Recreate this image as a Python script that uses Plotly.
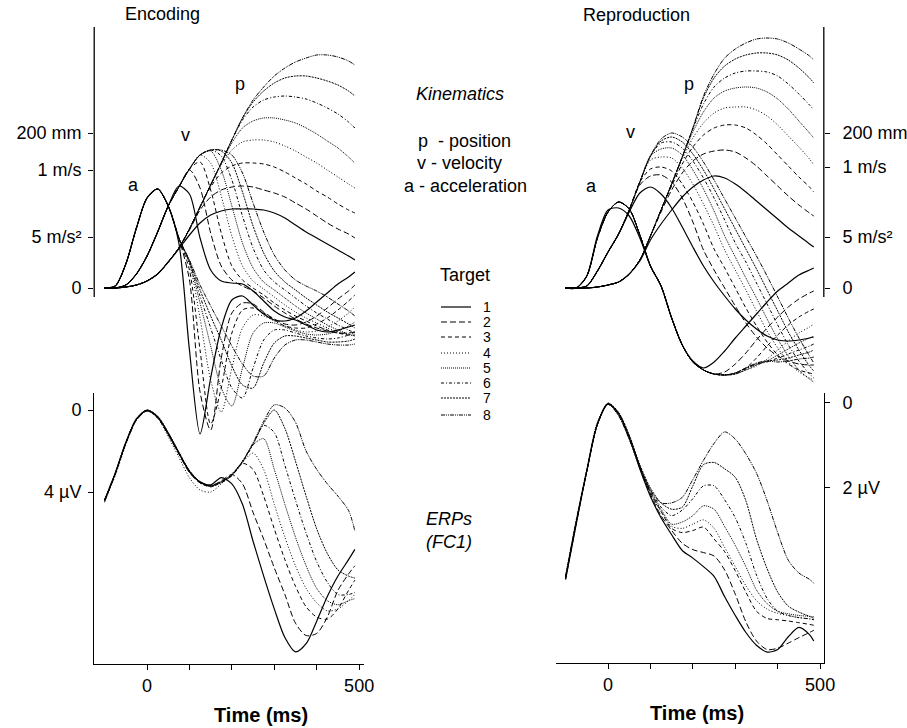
import plotly.graph_objects as go

W, H = 907, 728          # reference picture size (coordinates below are in its pixels)
LAYOUT_W = 920           # page renders slightly squeezed horizontally; compensate

# ---------------- data (time in ms) ----------------
T_ENC = [-100, -75, -50, -25, 0, 25, 50, 75, 100, 125, 150, 175, 200, 225, 250,
         275, 300, 325, 350, 375, 400, 425, 450, 475, 490]
T_REP = [-100, -75, -50, -25, 0, 25, 50, 75, 100, 125, 150, 175, 200, 225, 250,
         275, 300, 325, 350, 375, 400, 425, 450, 475, 485]

TARGETS = ["1", "2", "3", "4", "5", "6", "7", "8"]

# Encoding kinematics (plotted in display units, 0 = rest)
ENC_POS = [
    [0, 0, 1, 3, 7, 14, 26, 39, 53, 65, 73, 77, 79, 79, 79, 78, 75, 70, 63, 56, 50, 44, 38, 32, 28],
    [0, 0, 1, 3, 7, 14, 26, 40, 58, 78, 91, 98, 101, 102, 101, 98, 95, 91, 85, 79, 72, 65, 59, 54, 50],
    [0, 0, 1, 3, 7, 14, 26, 40, 59, 81, 101, 115, 122, 125, 125, 124, 121, 116, 110, 104, 97, 91, 84, 78, 75],
    [0, 0, 1, 3, 7, 14, 26, 40, 59, 81, 103, 123, 138, 146, 148, 148, 146, 142, 137, 131, 125, 118, 111, 104, 100],
    [0, 0, 1, 3, 7, 14, 26, 40, 59, 81, 103, 125, 145, 160, 167, 170, 170, 168, 165, 160, 154, 147, 140, 131, 125],
    [0, 0, 1, 3, 7, 14, 26, 40, 59, 81, 103, 125, 148, 168, 181, 188, 191, 192, 191, 189, 185, 180, 174, 166, 160],
    [0, 0, 1, 3, 7, 14, 26, 40, 59, 81, 103, 125, 148, 170, 186, 197, 205, 210, 212, 212, 210, 207, 203, 197, 192],
    [0, 0, 1, 3, 7, 14, 26, 40, 59, 81, 103, 125, 148, 170, 188, 201, 212, 220, 226, 230, 233, 233, 231, 227, 223],
]
ENC_VEL = [
    [0, 0, 3, 14, 32, 56, 82, 102, 94, 50, 18, 7, 5, 4, -3, -13, -23, -29, -32, -37, -42, -44, -42, -39, -37],
    [0, 0, 3, 14, 32, 56, 82, 101, 118, 100, 55, 22, 8, 2, -3, -10, -18, -25, -31, -36, -40, -43, -45, -45, -44],
    [0, 0, 3, 14, 32, 56, 82, 101, 119, 126, 98, 55, 22, 8, 0, -7, -15, -22, -28, -33, -38, -42, -45, -47, -47],
    [0, 0, 3, 14, 32, 56, 82, 101, 119, 133, 125, 92, 52, 22, 7, -1, -9, -17, -24, -30, -35, -40, -44, -47, -48],
    [0, 0, 3, 14, 32, 56, 82, 101, 119, 133, 137, 118, 82, 45, 20, 6, -2, -10, -18, -25, -31, -37, -42, -46, -48],
    [0, 0, 3, 14, 32, 56, 82, 101, 119, 133, 138, 132, 108, 72, 40, 18, 6, -2, -10, -18, -25, -31, -37, -42, -45],
    [0, 0, 3, 14, 32, 56, 82, 101, 119, 133, 138, 137, 125, 96, 62, 35, 17, 6, -2, -10, -17, -24, -30, -36, -40],
    [0, 0, 3, 14, 32, 56, 82, 101, 119, 133, 138, 138, 133, 115, 85, 56, 33, 18, 8, 2, -3, -9, -16, -23, -28],
]
ENC_ACC = [
    [0, 2, 24, 60, 90, 99, 82, 45, -62, -146, -90, -40, -12, -8, -17, -26, -32, -33, -30, -23, -14, -5, 4, 11, 16],
    [0, 2, 24, 60, 90, 99, 82, 50, 8, -104, -142, -70, -25, -15, -16, -24, -31, -36, -37, -34, -28, -20, -11, -3, 3],
    [0, 2, 24, 60, 90, 99, 82, 50, 18, -62, -136, -100, -45, -22, -20, -25, -32, -38, -40, -40, -36, -30, -22, -13, -7],
    [0, 2, 24, 60, 90, 99, 82, 50, 24, -30, -92, -124, -80, -40, -27, -28, -33, -38, -42, -44, -43, -39, -33, -25, -19],
    [0, 2, 24, 60, 90, 99, 82, 50, 25, -15, -58, -100, -118, -80, -45, -35, -35, -39, -43, -46, -47, -46, -43, -38, -34],
    [0, 2, 24, 60, 90, 99, 82, 50, 26, -8, -40, -72, -100, -110, -80, -52, -42, -42, -45, -48, -50, -51, -50, -47, -44],
    [0, 2, 24, 60, 90, 99, 82, 50, 27, -2, -28, -52, -78, -97, -100, -75, -55, -48, -48, -50, -52, -54, -54, -53, -51],
    [0, 2, 24, 60, 90, 99, 82, 50, 28, 3, -18, -38, -58, -76, -88, -88, -70, -57, -52, -52, -54, -56, -57, -57, -56],
]

# Reproduction kinematics
REP_POS = [
    [0, 0, 0, 1, 3, 6, 14, 27, 48, 64, 78, 91, 101, 108, 112, 110, 104, 96, 87, 78, 69, 60, 52, 44, 41],
    [0, 0, 0, 1, 3, 6, 14, 28, 52, 76, 98, 115, 127, 134, 137, 138, 136, 130, 122, 112, 102, 92, 83, 75, 72],
    [0, 0, 0, 1, 3, 6, 14, 28, 52, 78, 102, 124, 141, 153, 160, 163, 163, 160, 153, 144, 133, 122, 111, 101, 96],
    [0, 0, 0, 1, 3, 6, 14, 28, 52, 78, 104, 129, 150, 165, 175, 180, 181, 181, 178, 172, 163, 152, 141, 129, 123],
    [0, 0, 0, 1, 3, 6, 14, 28, 52, 78, 104, 131, 156, 176, 190, 197, 200, 201, 200, 196, 189, 179, 167, 155, 150],
    [0, 0, 0, 1, 3, 6, 14, 28, 52, 78, 104, 131, 159, 184, 201, 210, 215, 217, 217, 216, 212, 204, 194, 183, 178],
    [0, 0, 0, 1, 3, 6, 14, 28, 52, 78, 104, 131, 160, 190, 210, 222, 229, 233, 235, 235, 233, 228, 220, 210, 205],
    [0, 0, 0, 1, 3, 6, 14, 28, 52, 78, 104, 131, 160, 192, 214, 230, 239, 245, 249, 250, 249, 245, 239, 232, 228],
]
REP_VEL = [
    [0, 0, 2, 17, 36, 54, 76, 95, 101, 94, 80, 61, 41, 22, 6, -8, -21, -32, -41, -48, -52, -53, -52, -50, -49],
    [0, 0, 2, 17, 36, 54, 78, 103, 112, 113, 106, 90, 66, 38, 18, 0, -18, -35, -49, -60, -68, -73, -76, -77, -77],
    [0, 0, 2, 17, 36, 54, 78, 106, 119, 121, 117, 104, 86, 64, 39, 20, 0, -20, -38, -54, -67, -76, -82, -85, -86],
    [0, 0, 2, 17, 36, 54, 78, 106, 128, 131, 130, 120, 104, 84, 62, 38, 18, -2, -23, -43, -60, -74, -84, -90, -92],
    [0, 0, 2, 17, 36, 54, 78, 106, 132, 139, 140, 133, 118, 99, 77, 52, 31, 10, -10, -31, -51, -68, -82, -91, -94],
    [0, 0, 2, 17, 36, 54, 78, 106, 132, 145, 146, 140, 127, 110, 90, 68, 45, 26, 5, -16, -37, -57, -73, -86, -90],
    [0, 0, 2, 17, 36, 54, 78, 106, 132, 147, 151, 146, 134, 118, 99, 79, 59, 39, 19, -2, -23, -44, -62, -78, -83],
    [0, 0, 2, 17, 36, 54, 78, 106, 132, 149, 155, 151, 141, 126, 108, 89, 70, 51, 32, 12, -9, -30, -50, -68, -75],
]
REP_ACC = [
    [0, 0, 12, 52, 78, 80, 72, 50, 22, 2, -30, -57, -73, -80, -74, -63, -50, -38, -26, -14, -3, 5, 13, 18, 20],
    [0, 0, 12, 50, 76, 86, 79, 53, 22, 2, -30, -57, -74, -82, -86, -84, -76, -65, -52, -40, -29, -19, -11, -5, -3],
    [0, 0, 12, 50, 76, 86, 79, 53, 22, 2, -30, -57, -74, -82, -86, -87, -85, -80, -70, -58, -47, -37, -29, -23, -21],
    [0, 0, 12, 50, 76, 86, 79, 53, 22, 2, -30, -57, -74, -82, -86, -87, -86, -82, -78, -71, -62, -53, -45, -39, -36],
    [0, 0, 12, 50, 76, 86, 79, 53, 22, 2, -30, -57, -74, -82, -86, -87, -86, -82, -77, -73, -67, -61, -55, -50, -48],
    [0, 0, 12, 50, 76, 86, 79, 53, 22, 2, -30, -57, -74, -82, -86, -87, -86, -81, -76, -74, -70, -66, -62, -58, -56],
    [0, 0, 12, 50, 76, 86, 79, 53, 22, 2, -30, -57, -74, -82, -86, -87, -85, -80, -76, -73, -72, -70, -67, -64, -62],
    [0, 0, 12, 50, 76, 86, 79, 53, 22, 2, -30, -57, -74, -82, -86, -87, -85, -80, -75, -73, -74, -73, -71, -70, -69],
]

# ERPs at FC1 (microvolts, negative up)
ENC_ERP = [
    [4.4, 3.1, 1.6, 0.45, 0.02, 0.35, 1.15, 2.1, 3.0, 3.5, 3.65, 3.3, 3.6, 4.6, 6.4, 8.1, 9.7, 11.1, 11.8, 11.4, 10.3, 9.1, 8.1, 7.3, 6.8],
    [4.45, 3.15, 1.65, 0.5, 0.05, 0.35, 1.2, 2.15, 3.05, 3.55, 3.7, 3.45, 3.15, 3.6, 5.0, 6.3, 7.7, 9.0, 10.4, 11.0, 10.9, 10.1, 8.8, 8.0, 7.6],
    [4.4, 3.1, 1.6, 0.45, 0.02, 0.4, 1.2, 2.1, 3.0, 3.55, 3.75, 3.5, 3.2, 2.6, 2.9, 4.2, 5.8, 7.3, 8.6, 9.6, 10.1, 10.2, 9.7, 8.8, 8.3],
    [4.5, 3.2, 1.7, 0.5, 0.05, 0.4, 1.3, 2.3, 3.3, 3.9, 4.0, 3.6, 3.1, 2.55, 2.1, 2.9, 4.6, 6.2, 7.6, 8.7, 9.4, 9.8, 9.7, 9.3, 9.0],
    [4.35, 3.05, 1.55, 0.4, 0.0, 0.3, 1.1, 2.05, 2.95, 3.5, 3.7, 3.55, 3.2, 2.55, 1.7, 1.4, 2.9, 4.6, 6.2, 7.6, 8.7, 9.3, 9.5, 9.3, 9.2],
    [4.4, 3.1, 1.6, 0.45, 0.02, 0.35, 1.15, 2.1, 3.0, 3.55, 3.72, 3.55, 3.2, 2.55, 1.7, 0.75, 1.1, 2.7, 4.4, 6.0, 7.4, 8.4, 9.0, 9.0, 8.9],
    [4.45, 3.1, 1.6, 0.45, 0.0, 0.3, 1.1, 2.05, 2.95, 3.5, 3.7, 3.5, 3.15, 2.5, 1.65, 0.65, 0.0, 0.9, 2.5, 4.2, 5.8, 7.0, 7.8, 8.1, 8.2],
    [4.4, 3.1, 1.6, 0.45, 0.02, 0.35, 1.15, 2.1, 3.0, 3.55, 3.7, 3.5, 3.15, 2.5, 1.6, 0.55, -0.25, -0.1, 0.6, 2.0, 2.9, 3.6, 4.2, 4.9, 5.9],
]
REP_ERP = [
    [4.15, 2.85, 1.6, 0.5, 0.02, 0.25, 0.8, 1.55, 2.2, 2.7, 3.1, 3.47, 3.65, 3.85, 4.08, 4.56, 5.0, 5.4, 5.7, 5.86, 5.8, 5.5, 5.28, 5.45, 5.6],
    [4.1, 2.8, 1.6, 0.5, 0.02, 0.25, 0.8, 1.5, 2.15, 2.65, 3.0, 3.3, 3.45, 3.52, 3.6, 3.93, 4.5, 5.15, 5.6, 5.8, 5.77, 5.65, 5.52, 5.4, 5.35],
    [4.1, 2.8, 1.6, 0.5, 0.02, 0.25, 0.8, 1.5, 2.1, 2.55, 2.95, 3.05, 3.0, 2.92, 3.2, 3.5, 3.95, 4.45, 4.9, 5.07, 5.1, 5.13, 5.17, 5.21, 5.23],
    [4.1, 2.8, 1.6, 0.5, 0.04, 0.28, 0.85, 1.55, 2.15, 2.55, 2.9, 2.95, 2.85, 2.75, 2.95, 3.4, 3.85, 4.3, 4.65, 4.85, 4.95, 5.0, 5.05, 5.08, 5.1],
    [4.05, 2.75, 1.55, 0.45, 0.02, 0.3, 0.85, 1.5, 2.1, 2.5, 2.85, 2.8, 2.65, 2.42, 2.5, 2.91, 3.35, 3.85, 4.4, 4.72, 4.9, 4.96, 5.0, 5.02, 5.03],
    [4.1, 2.8, 1.6, 0.5, 0.02, 0.25, 0.8, 1.5, 2.05, 2.45, 2.65, 2.52, 2.25, 1.95, 1.95, 2.28, 2.7, 3.3, 4.05, 4.6, 4.9, 5.0, 5.05, 5.08, 5.1],
    [4.1, 2.8, 1.6, 0.5, 0.0, 0.22, 0.75, 1.45, 2.0, 2.35, 2.5, 2.45, 1.95, 1.45, 1.4, 1.55, 1.75, 2.3, 3.2, 3.9, 4.45, 4.78, 4.92, 5.02, 5.07],
    [4.15, 2.85, 1.6, 0.5, 0.03, 0.3, 0.85, 1.5, 2.05, 2.35, 2.35, 2.22, 1.8, 1.35, 0.95, 0.68, 0.85, 1.2, 1.65, 2.3, 3.05, 3.7, 4.0, 4.15, 4.24],
]

# tick labels
KIN_TICKTEXT = ["0", "5 m/s²", "1 m/s", "200 mm"]
ENC_KIN_TICKVALS = [0, 51, 118, 155]
REP_KIN_TICKVALS = [0, 51, 121, 155]
ENC_ERP_TICKVALS, ENC_ERP_TICKTEXT = [0, 4], ["0", "4 µV"]
REP_ERP_TICKVALS, REP_ERP_TICKTEXT = [0, 2], ["0", "2 µV"]
TIME_TICKVALS = [0, 100, 200, 300, 400, 500]
TIME_TICKTEXT = ["0", "", "", "", "", "500"]

# ---------------- styling ----------------
DASHES = ["solid", "6px,3px", "4px,3px", "1px,2px", "1px,1px",
          "3px,2px,1px,2px", "2px,1px", "4px,1px,1px,1px,1px,1px"]
WIDTHS = [1.2, 1.0, 1.0, 1.0, 1.0, 1.0, 1.0, 1.0]
FONT = "Liberation Sans, Arial, sans-serif"
TXT = 18


def P(x, y):
    return x / W, 1 - y / H


fig = go.Figure()


def add(xs, ys, k, xa, ya):
    fig.add_trace(go.Scatter(
        x=xs, y=ys, mode="lines", xaxis=xa, yaxis=ya, name=TARGETS[k],
        line=dict(color="black", width=WIDTHS[k], dash=DASHES[k],
                  shape="spline", smoothing=0.8),
        showlegend=False, hoverinfo="skip"))


for k in range(8):
    add(T_ENC, ENC_POS[k], k, "x", "y")
    add(T_ENC, ENC_VEL[k], k, "x", "y")
    add(T_ENC, ENC_ACC[k], k, "x", "y")
    add(T_ENC, ENC_ERP[k], k, "x2", "y2")
    add(T_REP, REP_POS[k], k, "x3", "y3")
    add(T_REP, REP_VEL[k], k, "x3", "y3")
    add(T_REP, REP_ACC[k], k, "x3", "y3")
    add(T_REP, REP_ERP[k], k, "x4", "y4")

LX = [94 / W, 363 / W]
RX = [555 / W, 822 / W]
KIN_DOM = [1 - 445 / H, 1 - 27 / H]
ENC_ERP_DOM = [1 - 664 / H, 1 - 393 / H]
REP_ERP_DOM = [1 - 663 / H, 1 - 393 / H]
LRANGE = [-124.5, 511]
RRANGE = [-122.1, 508.7]
tickfont = dict(family=FONT, size=18, color="black")

common_y = dict(showgrid=False, zeroline=False, ticks="outside", ticklen=5,
                tickcolor="black", tickwidth=1.2, tickfont=tickfont)
common_x = dict(showgrid=False, zeroline=False, ticks="outside", ticklen=5,
                tickcolor="black", tickwidth=1.2, tickfont=tickfont,
                showline=True, linecolor="black", linewidth=1.3,
                tickvals=TIME_TICKVALS, ticktext=TIME_TICKTEXT)

fig.update_layout(
    width=LAYOUT_W, height=H, autosize=False, margin=dict(l=0, r=0, t=0, b=0, pad=0),
    paper_bgcolor="white", plot_bgcolor="rgba(0,0,0,0)",
    showlegend=False,
    xaxis=dict(domain=LX, range=LRANGE, visible=False, anchor="y"),
    yaxis=dict(domain=KIN_DOM, range=[-157, 261], anchor="x", showline=False,
               tickvals=ENC_KIN_TICKVALS, ticktext=KIN_TICKTEXT,
               ticklabelstandoff=3, **common_y),
    xaxis2=dict(domain=LX, range=LRANGE, anchor="y2", **common_x),
    yaxis2=dict(domain=ENC_ERP_DOM, range=[12.39, -0.83], anchor="x2",
                showline=True, linecolor="black", linewidth=1.3, ticklabelstandoff=3,
                tickvals=ENC_ERP_TICKVALS, ticktext=ENC_ERP_TICKTEXT, **common_y),
    xaxis3=dict(domain=RX, range=RRANGE, visible=False, anchor="y3"),
    yaxis3=dict(domain=KIN_DOM, range=[-157, 261], anchor="x3", side="right",
                showline=False, tickvals=REP_KIN_TICKVALS, ticktext=KIN_TICKTEXT,
                ticklabelstandoff=9, **common_y),
    xaxis4=dict(domain=RX, range=RRANGE, anchor="y4", **common_x),
    yaxis4=dict(domain=REP_ERP_DOM, range=[6.118, -0.235], anchor="x4", side="right",
                showline=True, linecolor="black", linewidth=1.3, ticklabelstandoff=9,
                tickvals=REP_ERP_TICKVALS, ticktext=REP_ERP_TICKTEXT, **common_y),
)

shapes = [
    dict(type="line", xref="x domain", yref="y", x0=0, x1=0, y0=-9, y1=261,
         line=dict(color="black", width=1.3)),
    dict(type="line", xref="x3 domain", yref="y3", x0=1, x1=1, y0=-9, y1=261,
         line=dict(color="black", width=1.3)),
]
annotations = []


def text(s, x, y, size=TXT, xanchor="center"):
    xp, yp = P(x, y)
    annotations.append(dict(text=s, x=xp, y=yp, xref="paper", yref="paper",
                            showarrow=False, xanchor=xanchor, yanchor="middle",
                            font=dict(family=FONT, size=size, color="black")))


# manual legend
text("Target", 464, 275)
LEG_Y = [307, 322, 337, 353, 368, 383, 398, 415]
for k in range(8):
    x0, y0 = P(440, LEG_Y[k])
    x1, _ = P(470, LEG_Y[k])
    shapes.append(dict(type="line", xref="paper", yref="paper", x0=x0, x1=x1,
                       y0=y0, y1=y0,
                       line=dict(color="black", width=WIDTHS[k], dash=DASHES[k])))
    text(TARGETS[k], 486, LEG_Y[k], size=14)

text("Encoding", 162, 14)
text("Reproduction", 635, 15)
text("<i>Kinematics</i>", 459, 94)
text("p\u00a0 - position", 463, 141)
text("v - velocity", 458, 163)
text("a - acceleration", 464, 186)
text("<i>ERPs</i>", 448, 519)
text("<i>(FC1)</i>", 448, 542)
text("<b>Time (ms)</b>", 260, 715, size=20)
text("<b>Time (ms)</b>", 695, 713, size=20)
text("a", 133, 185)
text("v", 185, 135)
text("p", 239, 84)
text("a", 590, 186)
text("v", 629, 132)
text("p", 687, 84)

fig.update_layout(shapes=shapes, annotations=annotations)
fig.write_html("out.html",
               config={"displayModeBar": False, "responsive": False},
               post_script="document.body.style.margin='0px';document.body.style.overflow='hidden';")
